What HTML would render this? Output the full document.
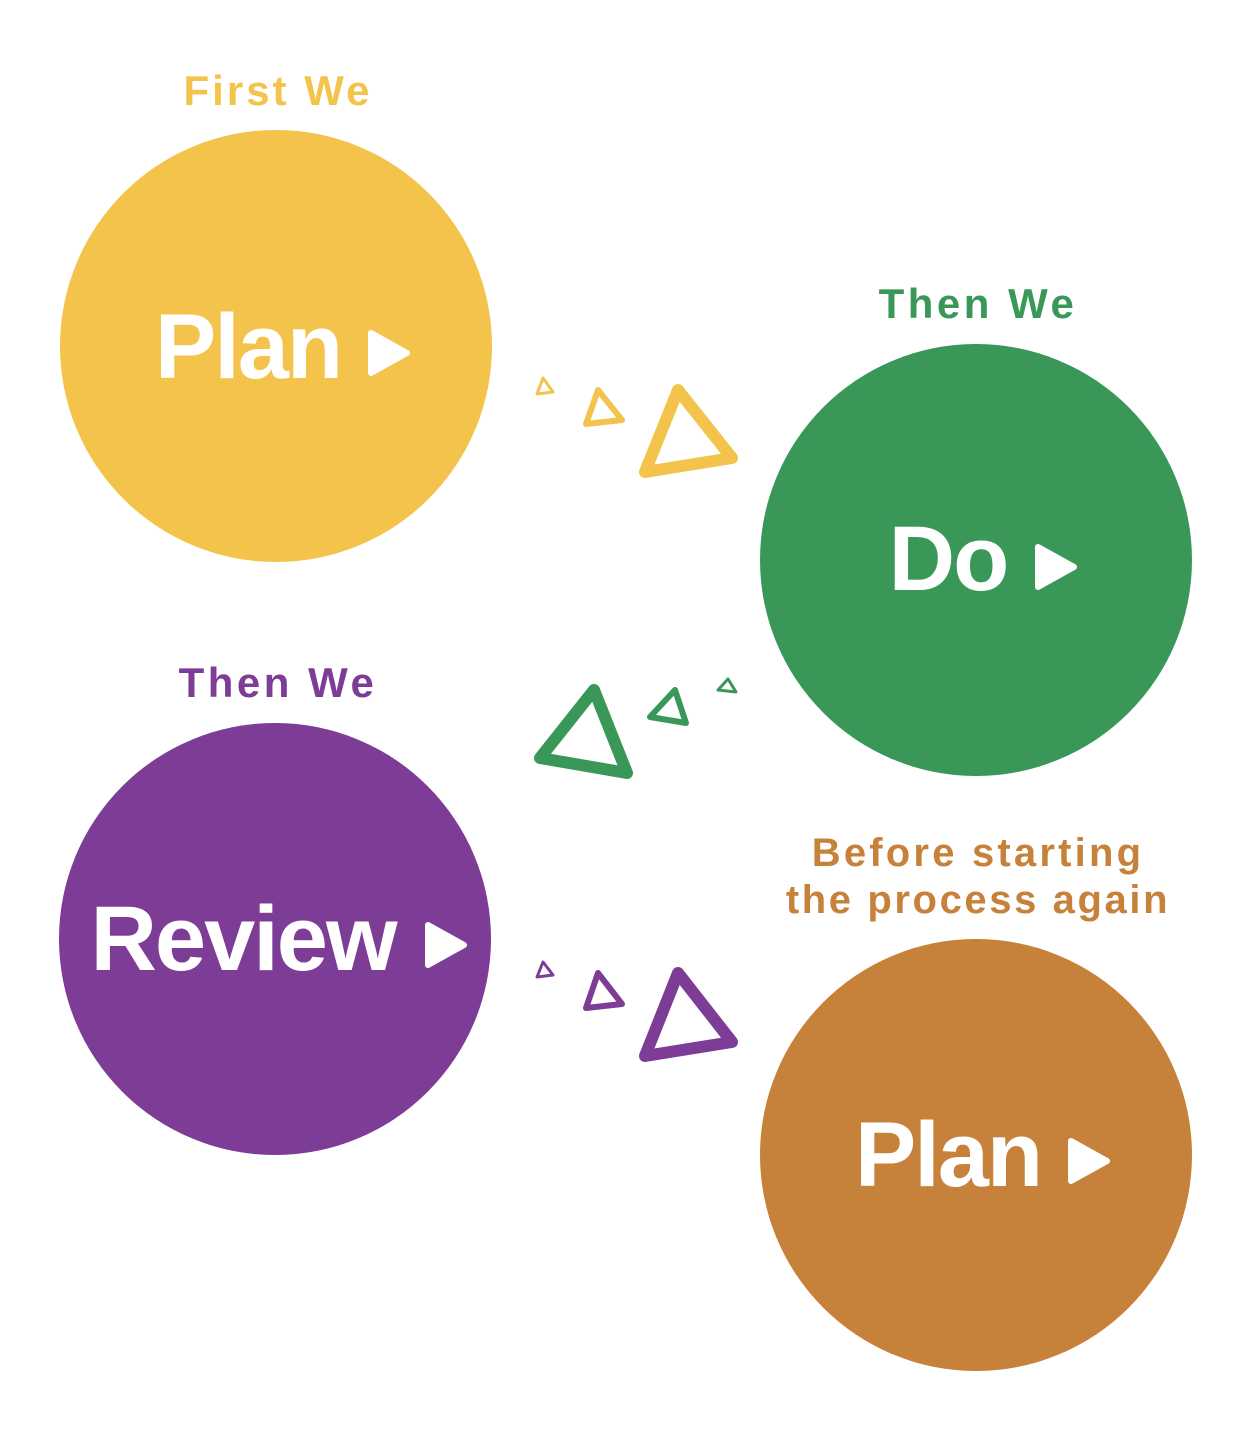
<!DOCTYPE html>
<html><head><meta charset="utf-8"><style>html,body{margin:0;padding:0;background:#fff}</style></head>
<body>
<svg width="1252" height="1429" viewBox="0 0 1252 1429" xmlns="http://www.w3.org/2000/svg" font-family="Liberation Sans, sans-serif" font-weight="bold">
<circle cx="276" cy="346" r="216" fill="#F4C34B"/>
<circle cx="976" cy="560" r="216" fill="#399858"/>
<circle cx="275" cy="939" r="216" fill="#7D3C96"/>
<circle cx="976" cy="1155" r="216" fill="#C6823A"/>
<g fill="none" stroke-linejoin="round" stroke-linecap="round">
<g stroke="#F4C34B">
<polygon points="678,390 732,458 645,472" stroke-width="12"/>
<polygon points="598,390 622,420 586,424" stroke-width="6"/>
<polygon points="543,378 553,392 537,394" stroke-width="3"/>
</g>
<g stroke="#399858">
<polygon points="594,690 627,773 540,758" stroke-width="12"/>
<polygon points="675,690 686,723 650,717" stroke-width="6"/>
<polygon points="728,679 736,692 718,690" stroke-width="3"/>
</g>
<g stroke="#7D3C96">
<polygon points="678,973 732,1042 645,1056" stroke-width="12"/>
<polygon points="598,973 622,1004 586,1008" stroke-width="6"/>
<polygon points="543,962 553,975 537,977" stroke-width="3"/>
</g>
</g>
<g fill="#fff" stroke="#fff" stroke-width="6" stroke-linejoin="round">
<polygon points="371,333 407,353 371,373"/>
<polygon points="1038,547 1074,567 1038,587"/>
<polygon points="428,925 464,945 428,965"/>
<polygon points="1071,1141 1107,1161 1071,1181"/>
</g>
<g fill="#fff" font-size="92" letter-spacing="-2" text-anchor="middle">
<text x="248" y="378">Plan</text>
<text x="948" y="590">Do</text>
<text x="243" y="970">Review</text>
<text x="948" y="1186">Plan</text>
</g>
<g font-size="42" text-anchor="middle">
<text x="278" y="105" fill="#F4C34B" letter-spacing="3">First We</text>
<text x="978" y="318" fill="#399858" letter-spacing="3.5">Then We</text>
<text x="278" y="697" fill="#7D3C96" letter-spacing="3.5">Then We</text>
<text x="978" y="866" fill="#C6823A" font-size="40" letter-spacing="3.2">Before starting</text>
<text x="978" y="913" fill="#C6823A" font-size="40" letter-spacing="2.6">the process again</text>
</g>
</svg>
</body></html>
